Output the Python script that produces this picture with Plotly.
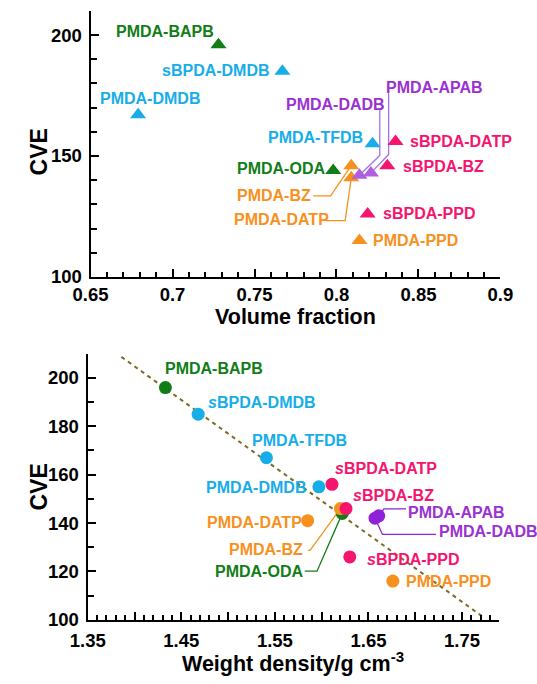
import numpy as np
import plotly.graph_objects as go

# ---------------- data ----------------
names = ["PMDA-BAPB", "sBPDA-DMDB", "PMDA-DMDB", "PMDA-TFDB", "sBPDA-DATP", "PMDA-ODA",
         "PMDA-BZ", "PMDA-DATP", "PMDA-DADB", "PMDA-APAB", "sBPDA-BZ", "sBPDA-PPD", "PMDA-PPD"]
groups = ["green", "cyan", "cyan", "cyan", "pink", "green",
          "orange", "orange", "purple", "purple", "pink", "pink", "orange"]
# top panel: volume fraction vs CVE
vol_frac = [0.728, 0.767, 0.679, 0.822, 0.836, 0.798, 0.809, 0.809, 0.814, 0.821, 0.831, 0.819, 0.814]
cve_top = [196, 185, 167, 155, 156, 144, 146, 141, 142, 143, 146, 126, 115]

# bottom panel: weight density vs CVE
bot_names = ["PMDA-BAPB", "sBPDA-DMDB", "PMDA-TFDB", "PMDA-DMDB", "sBPDA-DATP", "PMDA-DATP",
             "PMDA-ODA", "PMDA-BZ", "sBPDA-BZ", "PMDA-DADB", "PMDA-APAB", "sBPDA-PPD", "PMDA-PPD"]
bot_groups = ["green", "cyan", "cyan", "cyan", "pink", "orange",
              "green", "orange", "pink", "purple", "purple", "pink", "orange"]
density = [1.433, 1.468, 1.541, 1.597, 1.611, 1.585, 1.622, 1.620, 1.626, 1.657, 1.661, 1.630, 1.676]
cve_bot = [196, 185, 167, 155, 156, 141, 144, 146, 146, 142, 143, 126, 116]

# linear trend line (bottom)
fit_x = [1.386, 1.772]
fit_y = [208.7, 101.3]

top_xticks = [0.65, 0.70, 0.75, 0.80, 0.85, 0.90]
top_xticktext = ["0.65", "0.7", "0.75", "0.8", "0.85", "0.9"]
top_yticks = [100, 150, 200]
bot_xticks = [1.35, 1.40, 1.45, 1.50, 1.55, 1.60, 1.65, 1.70, 1.75]
bot_xticktext = ["1.35", " ", "1.45", " ", "1.55", " ", "1.65", " ", "1.75"]
bot_yticks = [100, 120, 140, 160, 180, 200]

# ---------------- styles ----------------
mk_col = {"green": "#117d17", "cyan": "#16ade9", "pink": "#f5146e",
          "orange": "#f8901e", "purple": "#8f22d8"}
mk_col_top = dict(mk_col, purple="#ad5fde")
lab_col = {"green": "#117d17", "cyan": "#16ade9", "pink": "#f5146e",
           "orange": "#f8901e", "purple": "#9a32d2"}
FONT = "Liberation Sans"
LAB_SIZE = 16

fig = go.Figure()

# label layout (positions of label text): name -> (x, y, xanchor)
top_labels = {
    "PMDA-BAPB": (0.7264, 201.6, "right"),
    "sBPDA-DMDB": (0.7609, 185.3, "right"),
    "PMDA-DMDB": (0.6862, 173.9, "center"),
    "PMDA-TFDB": (0.8172, 157.6, "right"),
    "sBPDA-DATP": (0.8437, 155.9, "left"),
    "PMDA-ODA": (0.7943, 144.9, "right"),
    "PMDA-BZ": (0.7856, 133.5, "right"),
    "PMDA-DATP": (0.7966, 123.7, "right"),
    "PMDA-DADB": (0.8310, 171.4, "right"),
    "PMDA-APAB": (0.8287, 178.4, "left"),
    "sBPDA-BZ": (0.8391, 145.7, "left"),
    "sBPDA-PPD": (0.8270, 126.1, "left"),
    "PMDA-PPD": (0.8213, 115.1, "left"),
}
# leader polylines: name -> list of layout points (start, elbow); end = data point
top_leaders = {
    "PMDA-DADB": [(0.8264, 169.0), (0.8264, 150.2)],
    "PMDA-APAB": [(0.8318, 175.9), (0.8318, 150.6)],
    "PMDA-BZ": [(0.7858, 133.5), (0.7964, 133.5)],
    "PMDA-DATP": [(0.7935, 123.3), (0.8053, 123.3)],
}
bot_labels = {
    "PMDA-BAPB": (1.4306, 203.7, "left"),
    "sBPDA-DMDB": (1.4762, 189.8, "left"),
    "PMDA-TFDB": (1.6297, 174.0, "right"),
    "sBPDA-DATP": (1.6118, 162.6, "left"),
    "PMDA-DMDB": (1.5853, 154.7, "right"),
    "sBPDA-BZ": (1.6313, 151.4, "left"),
    "PMDA-APAB": (1.6901, 144.3, "left"),
    "PMDA-DADB": (1.7229, 136.4, "left"),
    "PMDA-DATP": (1.5816, 140.2, "right"),
    "PMDA-BZ": (1.5819, 128.9, "right"),
    "PMDA-ODA": (1.5819, 119.8, "right"),
    "sBPDA-PPD": (1.6464, 124.9, "left"),
    "PMDA-PPD": (1.6877, 116.0, "left"),
}
bot_leaders = {
    "PMDA-APAB": [(1.6901, 145.9), (1.6665, 145.9)],
    "PMDA-DADB": [(1.7220, 135.3), (1.6649, 135.3)],
    "PMDA-BZ": [(1.5853, 128.7), (1.5876, 128.7)],
    "PMDA-ODA": [(1.5819, 120.1), (1.5950, 120.1)],
}

# ---------------- top panel ----------------
for nm, g, x, y in zip(names, groups, vol_frac, cve_top):
    if nm in top_leaders:
        pts = top_leaders[nm]
        lc = "#a070e8" if g == "purple" else mk_col[g]
        fig.add_trace(go.Scatter(x=[p[0] for p in pts] + [x], y=[p[1] for p in pts] + [y],
                                 mode="lines", line=dict(color=lc, width=1.3),
                                 xaxis="x", yaxis="y", hoverinfo="skip", showlegend=False))
for nm, g, x, y in zip(names, groups, vol_frac, cve_top):
    fig.add_trace(go.Scatter(x=[x], y=[y], mode="markers",
                             marker=dict(symbol="triangle-up", size=14, color=mk_col_top[g]),
                             xaxis="x", yaxis="y", name=nm, showlegend=False))
    lx, ly, xa = top_labels[nm]
    fig.add_annotation(x=lx, y=ly, xref="x", yref="y", text=nm, showarrow=False,
                       xanchor=xa, yanchor="middle",
                       font=dict(family=FONT, size=LAB_SIZE, color=lab_col[g], weight="bold"))

# ---------------- bottom panel ----------------
fig.add_trace(go.Scatter(x=fit_x, y=fit_y, mode="lines",
                         line=dict(color="#7d6a22", width=2, dash="4px,4px"),
                         xaxis="x2", yaxis="y2", hoverinfo="skip", showlegend=False))
for nm, g, x, y in zip(bot_names, bot_groups, density, cve_bot):
    if nm in bot_leaders:
        pts = bot_leaders[nm]
        fig.add_trace(go.Scatter(x=[p[0] for p in pts] + [x], y=[p[1] for p in pts] + [y],
                                 mode="lines", line=dict(color=mk_col[g], width=1.3),
                                 xaxis="x2", yaxis="y2", hoverinfo="skip", showlegend=False))
for nm, g, x, y in zip(bot_names, bot_groups, density, cve_bot):
    fig.add_trace(go.Scatter(x=[x], y=[y], mode="markers",
                             marker=dict(symbol="circle", size=13, color=mk_col[g]),
                             xaxis="x2", yaxis="y2", name=nm, showlegend=False))
    lx, ly, xa = bot_labels[nm]
    txt = nm.replace("sBPDA", "<i>s</i>BPDA")
    fig.add_annotation(x=lx, y=ly, xref="x2", yref="y2", text=txt, showarrow=False,
                       xanchor=xa, yanchor="middle",
                       font=dict(family=FONT, size=LAB_SIZE, color=lab_col[g], weight="bold"))

# ---------------- axes ----------------
tickfont = dict(family=FONT, size=18.5, color="black", weight="bold")
common = dict(showline=True, linecolor="black", linewidth=2.2, ticks="inside",
              tickcolor="black", tickwidth=2, showgrid=False, zeroline=False,
              tickfont=tickfont, mirror=False)

fig.update_layout(
    width=537, height=684, margin=dict(l=0, r=0, t=0, b=0),
    paper_bgcolor="white", plot_bgcolor="white",
    xaxis=dict(domain=[0.14339, 0.95345], anchor="y", range=[0.65, 0.9],
               tickmode="array", tickvals=top_xticks, ticktext=top_xticktext, ticklen=8,
               minor=dict(tickmode="array", tickvals=list(np.round(np.arange(0.65, 0.9001, 0.01), 3)),
                          ticks="inside", ticklen=5, tickwidth=2, tickcolor="black"),
               **common),
    yaxis=dict(domain=[0.58918, 0.98392], anchor="x", range=[100, 210],
               tickmode="array", tickvals=top_yticks, ticklen=8, ticklabelstandoff=3,
               minor=dict(tickmode="array", tickvals=list(range(100, 211, 10)),
                          ticks="inside", ticklen=6, tickwidth=2, tickcolor="black"),
               **common),
    xaxis2=dict(domain=[0.13780, 0.94972], anchor="y2", range=[1.35, 1.789],
                tickmode="array", tickvals=bot_xticks, ticktext=bot_xticktext, ticklen=8,
                ticklabelstandoff=3,
                minor=dict(tickmode="array", tickvals=list(np.round(np.arange(1.35, 1.7801, 0.01), 3)),
                           ticks="inside", ticklen=5, tickwidth=2, tickcolor="black"),
                **common),
    yaxis2=dict(domain=[0.08041, 0.47515], anchor="x2", range=[100, 210],
                tickmode="array", tickvals=bot_yticks, ticklen=8, ticklabelstandoff=3,
                minor=dict(tickmode="array", tickvals=list(range(100, 211, 10)),
                           ticks="inside", ticklen=6, tickwidth=2, tickcolor="black"),
                **common),
)

title_font = dict(family=FONT, size=21.5, color="black", weight="bold")
cve_font = dict(family=FONT, size=23, color="black", weight="bold")
fig.add_annotation(x=22 / 537, y=(684 - 154) / 684, xref="paper", yref="paper", text="CVE",
                   textangle=-90, showarrow=False, xanchor="center", yanchor="middle", font=cve_font)
fig.add_annotation(x=22 / 537, y=(684 - 494) / 684, xref="paper", yref="paper", text="CVE",
                   textangle=-90, showarrow=False, xanchor="center", yanchor="middle", font=cve_font)
fig.add_annotation(x=294.5 / 537, y=(684 - 322) / 684, xref="paper", yref="paper",
                   text="Volume fraction", showarrow=False, xanchor="center", yanchor="middle",
                   font=title_font)
fig.add_annotation(x=292 / 537, y=(684 - 672) / 684, xref="paper", yref="paper",
                   text="Weight density/g cm<sup>-3</sup>", showarrow=False,
                   xanchor="center", yanchor="middle", font=title_font)

fig.write_html("out.html")
